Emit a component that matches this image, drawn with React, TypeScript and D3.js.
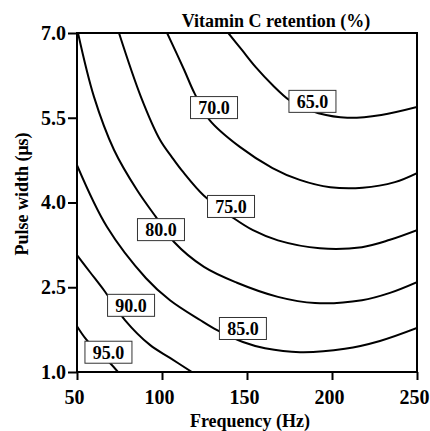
import React, { useEffect, useRef } from "react";
import * as d3 from "d3";

// axis ticks
const freqTicks = [50, 100, 150, 200, 250];
const pulseTicks = [1.0, 2.5, 4.0, 5.5, 7.0];

// contour levels (%)
const levels = [65, 70, 75, 80, 85, 90, 95];

// [frequency (Hz), pulse width (us)] along each contour
const contour65 = [[139, 7.0], [147, 6.7], [155, 6.4], [165, 6.08], [175, 5.81], [184, 5.67], [192, 5.58], [209, 5.5], [229, 5.55], [250, 5.69]];
const contour70 = [[103, 7.0], [113, 6.35], [119, 5.94], [128, 5.46], [146, 4.98], [165, 4.61], [181, 4.4], [199, 4.27], [218, 4.26], [237, 4.36], [250, 4.52]];
const contour75 = [[74.7, 7.0], [87.6, 5.87], [98.8, 5.11], [105.9, 4.8], [112.4, 4.54], [124.7, 4.12], [141.8, 3.73], [153.5, 3.51], [168.2, 3.33], [192.9, 3.19], [217.6, 3.21], [234.1, 3.34], [250, 3.51]];
const contour80 = [[50.6, 7.0], [60, 5.87], [71.8, 4.93], [85.3, 4.22], [96.5, 3.74], [107.1, 3.3], [124.7, 2.86], [144.1, 2.58], [168.2, 2.33], [190, 2.22], [217.6, 2.27], [234.1, 2.4], [250, 2.59]];
const contour85 = [[50, 4.66], [67.6, 3.57], [90.6, 2.66], [104.7, 2.27], [122.4, 1.92], [132.4, 1.74], [147.6, 1.53], [160.6, 1.42], [181.2, 1.35], [207.6, 1.41], [228.2, 1.55], [250, 1.78]];
const contour90 = [[50, 3.07], [57.6, 2.77], [66.5, 2.42], [78.2, 1.92], [92.9, 1.48], [104.7, 1.25], [117.6, 1.0]];
const contour95 = [[50, 1.81], [55.3, 1.58], [62.4, 1.35], [69.4, 1.16], [74.1, 1.0]];

const contourLines = [contour65, contour70, contour75, contour80, contour85, contour90, contour95];

// where each level's label sits, [frequency, pulse width]
const labelSpots = [[188.5, 5.79], [130.6, 5.68], [140.6, 3.93], [99.4, 3.52], [147.6, 1.77], [81.8, 2.18], [68.5, 1.35]];

const App = () => {
  const svgRef = useRef(null);

  useEffect(() => {
    const width = 430,
      height = 431;
    const margin = { top: 33, right: 13, bottom: 59, left: 77 };
    const font = "'Liberation Serif', 'Times New Roman', serif";

    const svg = d3.select(svgRef.current).attr("width", width).attr("height", height).html("");

    const x = d3.scaleLinear().domain([50, 250]).range([margin.left, width - margin.right]);
    const y = d3.scaleLinear().domain([1.0, 7.0]).range([height - margin.bottom, margin.top]);

    svg.append("defs")
      .append("clipPath")
      .attr("id", "plotClip")
      .append("rect")
      .attr("x", x(50))
      .attr("y", y(7))
      .attr("width", x(250) - x(50))
      .attr("height", y(1) - y(7));

    const line = d3
      .line()
      .x((d) => x(d[0]))
      .y((d) => y(d[1]))
      .curve(d3.curveCatmullRom.alpha(0.5));

    // contour lines
    svg
      .append("g")
      .attr("clip-path", "url(#plotClip)")
      .selectAll("path")
      .data(contourLines)
      .enter()
      .append("path")
      .attr("d", (d) => line(d))
      .attr("fill", "none")
      .attr("stroke", "#000")
      .attr("stroke-width", 2);

    // labels (white boxes on top of the lines)
    const lab = svg
      .append("g")
      .selectAll("g")
      .data(labelSpots)
      .enter()
      .append("g")
      .attr("transform", (d) => `translate(${x(d[0])}, ${y(d[1])})`);

    lab.append("rect")
      .attr("x", -23.5)
      .attr("y", -11)
      .attr("width", 47)
      .attr("height", 22)
      .attr("fill", "#fff")
      .attr("stroke", "#333")
      .attr("stroke-width", 1);

    lab.append("text")
      .attr("text-anchor", "middle")
      .attr("dy", "0.36em")
      .style("font-family", font)
      .style("font-weight", "bold")
      .style("font-size", "18px")
      .text((d, i) => d3.format(".1f")(levels[i]));

    // frame
    svg.append("rect")
      .attr("x", x(50))
      .attr("y", y(7))
      .attr("width", x(250) - x(50))
      .attr("height", y(1) - y(7))
      .attr("fill", "none")
      .attr("stroke", "#000")
      .attr("stroke-width", 2);

    // axes
    const xAxis = svg
      .append("g")
      .attr("transform", `translate(0, ${y(1)})`)
      .call(d3.axisBottom(x).tickValues(freqTicks).tickSize(8).tickPadding(10).tickFormat(d3.format("d")));
    const yAxis = svg
      .append("g")
      .attr("transform", `translate(${x(50)}, 0)`)
      .call(d3.axisLeft(y).tickValues(pulseTicks).tickSize(9).tickPadding(2).tickFormat(d3.format(".1f")));

    [xAxis, yAxis].forEach((a) => {
      a.select(".domain").remove();
      a.selectAll("line").attr("stroke", "#000").attr("stroke-width", 2);
      a.selectAll("text")
        .attr("fill", "#000")
        .style("font-family", font)
        .style("font-weight", "bold")
        .style("font-size", "20px");
    });
    xAxis.selectAll("text").attr("dx", -3);

    // titles
    svg.append("text")
      .attr("x", 276)
      .attr("y", 27)
      .attr("text-anchor", "middle")
      .style("font-family", font)
      .style("font-weight", "bold")
      .style("font-size", "18px")
      .text("Vitamin C retention (%)");

    svg.append("text")
      .attr("x", 250)
      .attr("y", 427)
      .attr("text-anchor", "middle")
      .style("font-family", font)
      .style("font-weight", "bold")
      .style("font-size", "18px")
      .text("Frequency (Hz)");

    svg.append("text")
      .attr("transform", "translate(28, 194) rotate(-90)")
      .attr("text-anchor", "middle")
      .style("font-family", font)
      .style("font-weight", "bold")
      .style("font-size", "18px")
      .text("Pulse width (\u03bcs)");
  }, []);

  return <svg ref={svgRef} style={{ position: "absolute", left: 0, top: 0, background: "#fff" }}></svg>;
};

export default App;
